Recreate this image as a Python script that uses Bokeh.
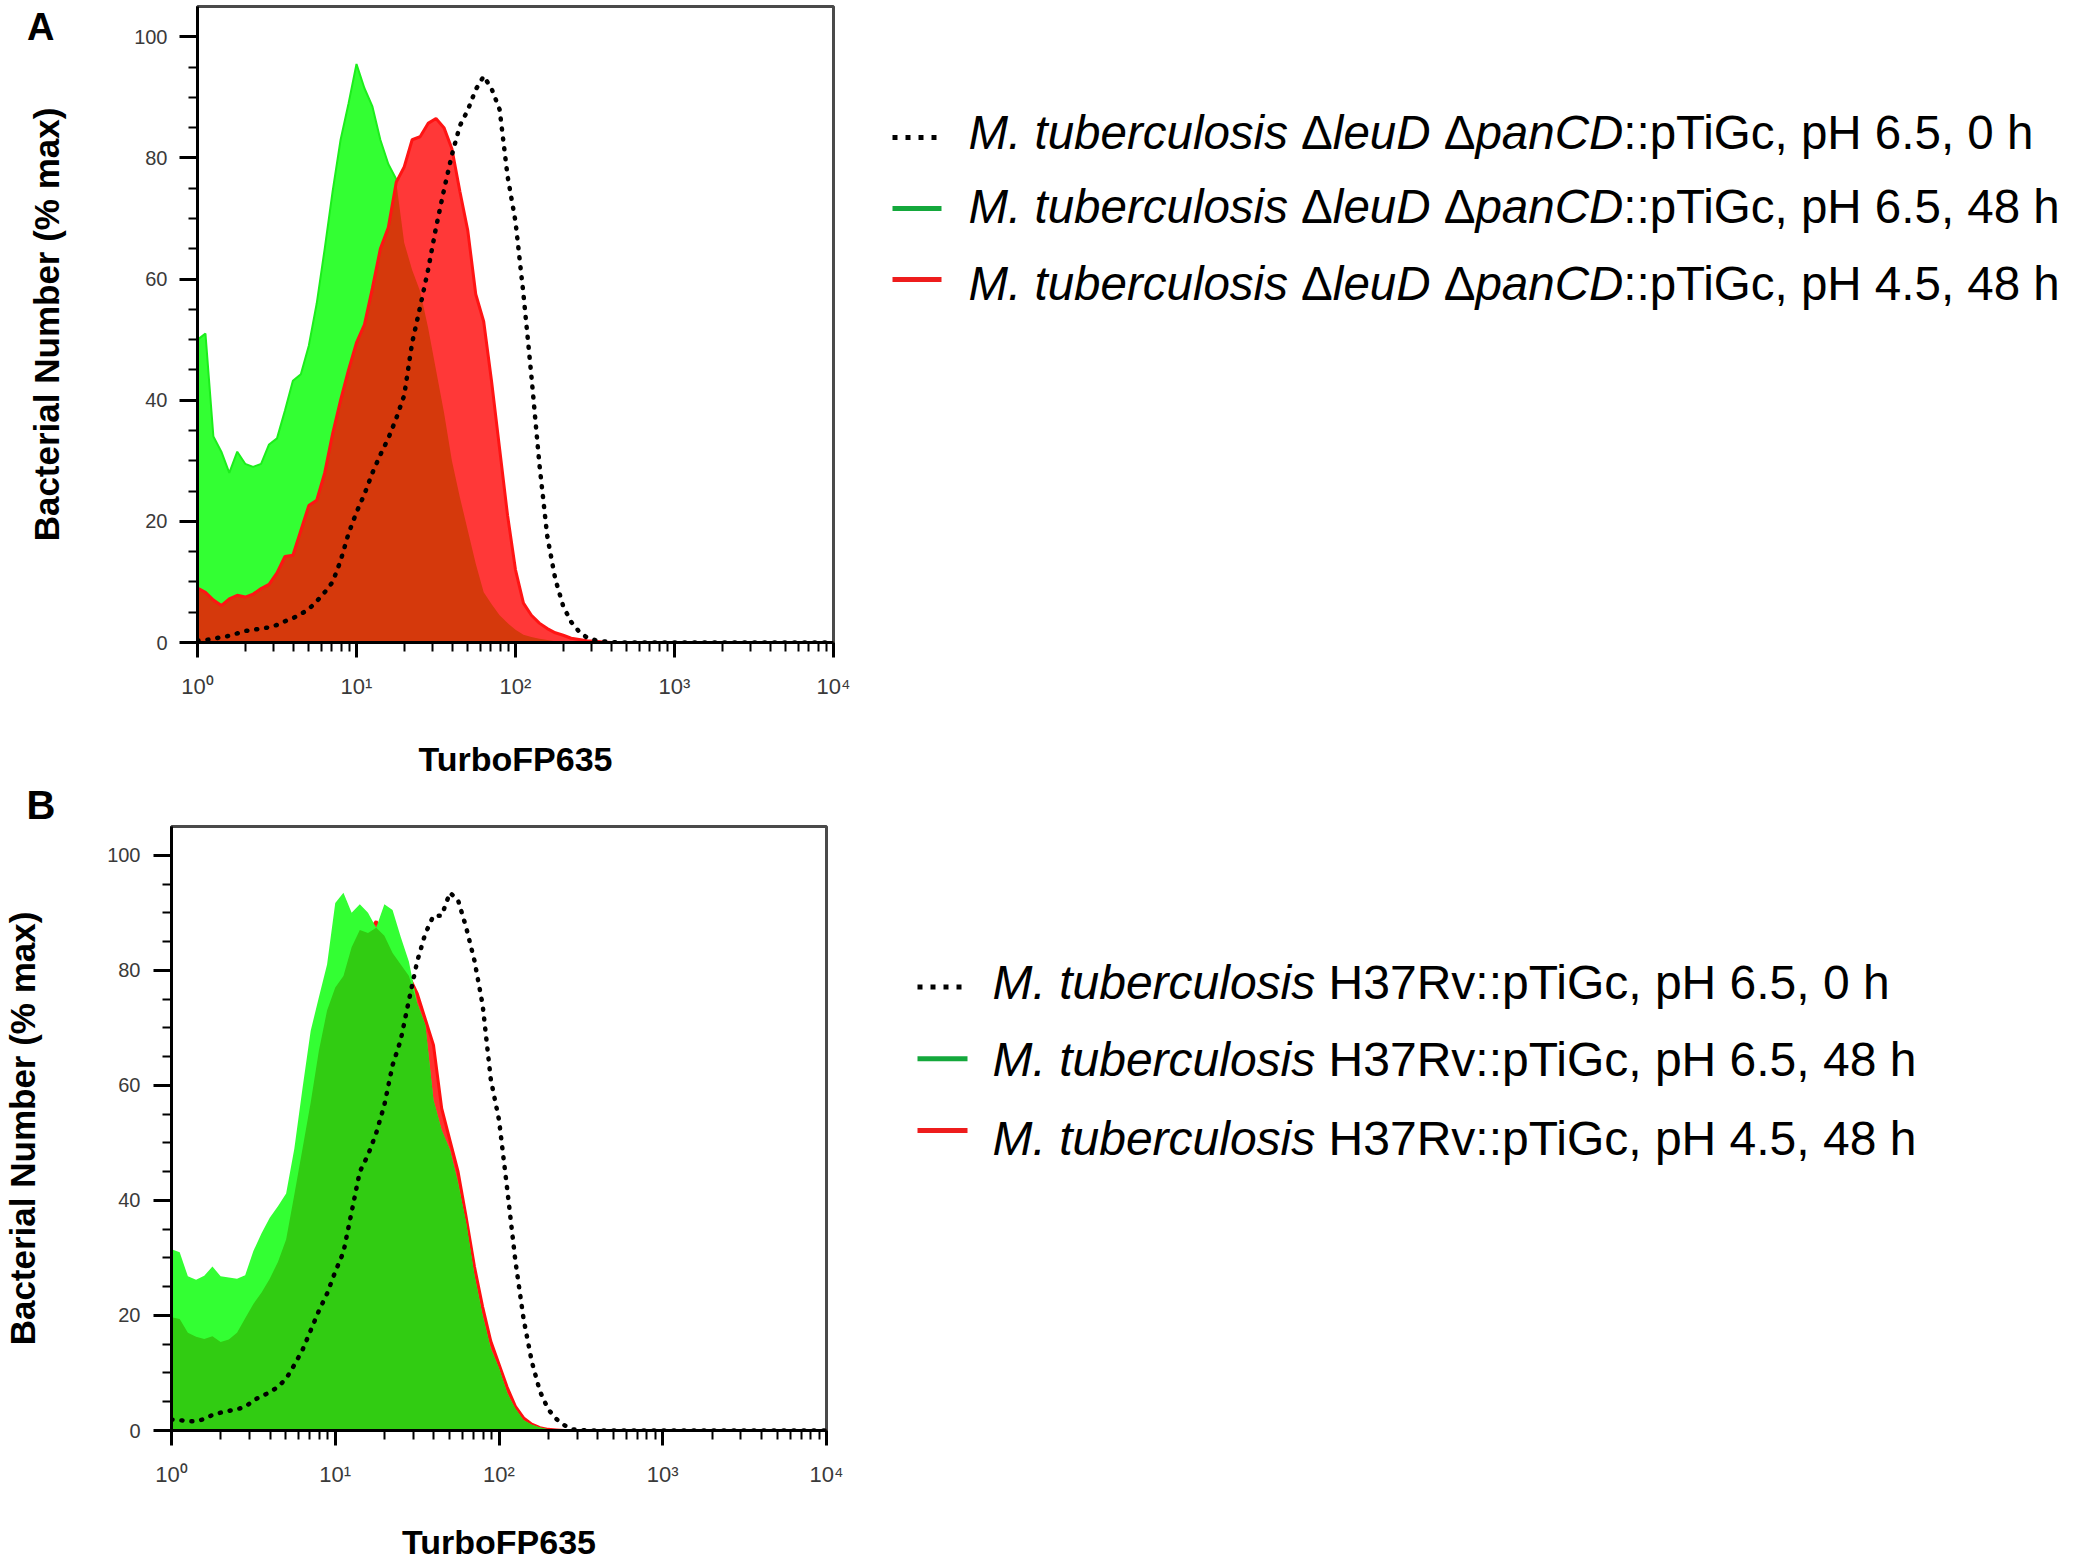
import numpy as np
from bokeh.plotting import figure
from bokeh.models import (Range1d, FixedTicker, ColumnDataSource, LinearAxis,
                          CustomJSTickFormatter)
from bokeh.layouts import row, column
from bokeh.embed import file_html
from bokeh.resources import INLINE
from bokeh.core.properties import value

# ---------------- data ----------------
# bin positions, log10 of TurboFP635 intensity
log_bins = [0.00, 0.05, 0.10, 0.15, 0.20, 0.25, 0.30, 0.35, 0.40, 0.45,
            0.50, 0.55, 0.60, 0.65, 0.70, 0.75, 0.80, 0.85, 0.90, 0.95,
            1.00, 1.05, 1.10, 1.15, 1.20, 1.25, 1.30, 1.35, 1.40, 1.45,
            1.50, 1.55, 1.60, 1.65, 1.70, 1.75, 1.80, 1.85, 1.90, 1.95,
            2.00, 2.05, 2.10, 2.15, 2.20, 2.25, 2.30, 2.35, 2.40, 2.45,
            2.50, 2.55, 2.60, 2.65, 2.70, 3.00, 3.50, 4.00]

# Panel A: M. tuberculosis dleuD dpanCD::pTiGc
a_ph65_0h = [0.3, 0.4, 0.6, 0.9, 1.1, 1.5, 1.9, 2.1, 2.3, 2.5,
             2.9, 3.5, 4.0, 4.7, 5.5, 6.8, 8.3, 10.0, 13.5, 18.0,
             21.5, 24.5, 28.0, 31.0, 33.7, 37.0, 40.8, 49.5, 55.4, 61.5,
             68.5, 74.7, 80.5, 85.3, 87.9, 91.3, 93.5, 91.4, 88.0, 77.0,
             69.5, 57.5, 44.0, 29.5, 17.5, 10.5, 6.0, 3.4, 1.8, 0.8,
             0.4, 0.2, 0.1, 0, 0, 0, 0, 0]
a_ph65_48h = [50.0, 51.0, 34.0, 31.5, 28.0, 31.5, 29.5, 29.0, 29.5, 32.7,
              33.7, 38.3, 43.2, 44.3, 49.0, 56.0, 65.0, 74.5, 83.0, 89.0,
              95.5, 91.5, 88.5, 83.0, 79.0, 76.5, 66.0, 61.5, 58.0, 52.0,
              45.0, 38.0, 30.0, 24.0, 18.5, 13.0, 8.3, 6.3, 4.5, 3.2,
              2.1, 1.3, 0.9, 0.6, 0.4, 0.2, 0.1, 0, 0, 0,
              0, 0, 0, 0, 0, 0, 0, 0]
a_ph45_48h = [9.0, 8.3, 7.0, 6.1, 7.2, 7.8, 7.5, 8.0, 8.9, 9.6,
              11.5, 14.2, 14.4, 18.5, 22.6, 23.5, 28.0, 34.5, 40.0, 45.0,
              49.5, 52.5, 58.5, 65.0, 68.5, 76.0, 78.5, 83.0, 83.5, 85.7,
              86.5, 85.0, 81.5, 74.5, 68.0, 57.5, 53.0, 43.0, 32.0, 21.0,
              12.0, 6.5, 4.5, 3.2, 2.3, 1.6, 1.2, 0.7, 0.5, 0.3,
              0.2, 0.1, 0, 0, 0, 0, 0, 0]

# Panel B: M. tuberculosis H37Rv::pTiGc
b_ph65_0h = [1.9, 1.8, 1.6, 1.6, 2.0, 2.7, 3.1, 3.4, 3.7, 4.1,
             5.2, 6.0, 6.6, 7.6, 9.0, 11.4, 14.0, 17.4, 20.8, 23.8,
             27.6, 31.0, 38.0, 45.0, 47.9, 51.7, 56.6, 63.5, 67.9, 74.8,
             81.5, 86.4, 89.5, 89.5, 93.5, 92.2, 87.4, 81.7, 74.0, 61.0,
             54.0, 42.0, 29.5, 19.4, 12.0, 6.8, 3.7, 2.0, 0.9, 0.2,
             0.05, 0, 0, 0, 0, 0, 0, 0]
b_ph65_48h = [31.5, 31.0, 26.8, 26.2, 26.9, 28.5, 26.8, 26.6, 26.4, 27.0,
              31.2, 34.3, 37.0, 39.0, 41.2, 49.0, 59.5, 69.5, 75.3, 81.0,
              91.7, 93.5, 90.0, 91.5, 90.0, 87.4, 91.5, 90.5, 85.8, 81.5,
              74.3, 70.5, 57.4, 52.2, 48.8, 43.0, 36.0, 27.0, 20.0, 14.2,
              10.8, 6.5, 3.8, 1.8, 1.0, 0.5, 0.2, 0.1, 0, 0,
              0, 0, 0, 0, 0, 0, 0, 0]
b_ph45_48h = [19.7, 19.4, 17.0, 16.3, 15.9, 16.4, 15.4, 15.8, 17.0, 19.5,
              22.0, 24.0, 26.4, 29.3, 33.2, 41.0, 49.0, 57.0, 66.0, 73.0,
              77.0, 79.0, 84.0, 87.0, 86.5, 88.5, 86.0, 83.0, 81.0, 79.0,
              76.0, 71.5, 67.0, 56.0, 50.5, 45.0, 37.0, 28.5, 21.5, 15.5,
              11.5, 7.5, 4.2, 2.2, 1.1, 0.5, 0.2, 0.1, 0, 0,
              0, 0, 0, 0, 0, 0, 0, 0]

x_ticks = [1, 10, 100, 1000, 10000]
x_tick_labels = ["10\u2070", "10\u00b9", "10\u00b2", "10\u00b3", "10\u2074"]
y_ticks = [0, 20, 40, 60, 80, 100]
conditions = ["pH 6.5, 0 h", "pH 6.5, 48 h", "pH 4.5, 48 h"]
y_title = "Bacterial Number (% max)"
x_title = "TurboFP635"

FONT = "Liberation Sans"


def blank(p):
    p.axis.visible = False
    p.grid.visible = False
    p.outline_line_color = None
    p.background_fill_color = "white"
    p.border_fill_color = "white"


def style_hist(p, xstandoff, ylab_standoff, ytitle_standoff):
    p.grid.visible = False
    p.background_fill_color = "white"
    p.border_fill_color = "white"
    p.outline_line_color = "#4a4a4a"
    p.outline_line_width = 3
    minors = [k * 10 ** d for d in range(4) for k in range(2, 10)]
    p.xaxis.ticker = FixedTicker(ticks=x_ticks, minor_ticks=minors)
    p.xaxis.major_label_overrides = {t: l for t, l in zip(x_ticks, x_tick_labels)}
    p.yaxis.ticker = FixedTicker(ticks=y_ticks, minor_ticks=list(range(0, 101, 5)))
    for ax in (p.xaxis[0], p.yaxis[0]):
        ax.axis_line_color = "black"
        ax.axis_line_width = 3
        ax.major_tick_line_color = "black"
        ax.major_tick_line_width = 3
        ax.major_tick_in = 0
        ax.minor_tick_line_color = "black"
        ax.minor_tick_line_width = 2
        ax.minor_tick_in = 0
        ax.major_label_text_font = FONT
        ax.major_label_text_color = "#3a3a3a"
        ax.axis_label_text_font = FONT
        ax.axis_label_text_font_style = "bold"
        ax.axis_label_text_color = "black"
    p.xaxis.major_label_text_font_size = "22px"
    p.yaxis.major_label_text_font_size = "20px"
    p.xaxis.axis_label_text_font_size = "34px"
    p.yaxis.axis_label_text_font_size = "35px"
    p.xaxis.major_tick_out = 15
    p.xaxis.minor_tick_out = 9
    p.xaxis.major_label_standoff = 16
    p.xaxis.axis_label = x_title
    p.xaxis.axis_label_standoff = xstandoff
    p.yaxis.major_tick_out = 18
    p.yaxis.minor_tick_out = 9
    p.yaxis.major_label_standoff = ylab_standoff
    p.yaxis.major_label_orientation = "horizontal"
    p.yaxis.axis_label = y_title
    p.yaxis.axis_label_standoff = ytitle_standoff


xs = 10 ** np.array(log_bins)
zero = np.zeros(len(xs))

# ----- geometry (page pixels) -----
W_PAGE = 2072
HA = 780                 # row A: 0 .. 780
HB = 1563 - HA           # row B: 780 .. 1563
A_top, A_bot = 6, HA - 642
B_top, B_bot = 826 - HA, HB - (1432 - HA)

# ---------------- panel A ----------------
pA = figure(width=868, height=HA, x_axis_type="log",
            x_range=Range1d(1, 10000), y_range=Range1d(0, 105),
            min_border_left=197, min_border_right=35, min_border_top=A_top,
            min_border_bottom=A_bot, toolbar_location=None, output_backend="svg")
style_hist(pA, 38, 12, 65)
letter_axis = LinearAxis(ticker=FixedTicker(ticks=[101.6]),
                         formatter=CustomJSTickFormatter(code='return "A"'),
                         axis_line_color=None, major_tick_line_color=None,
                         minor_tick_line_color=None, major_tick_out=0,
                         major_tick_in=0, major_label_standoff=-30,
                         major_label_text_font=FONT,
                         major_label_text_font_style="bold",
                         major_label_text_font_size="38px",
                         major_label_text_color="black")
pA.add_layout(letter_axis, "left")
gA = np.array(a_ph65_48h)
rA = np.array(a_ph45_48h)
pA.varea(x=xs, y1=zero, y2=gA, fill_color="#33ff33")
pA.line(xs, gA, line_color="#1cee1c", line_width=2)
pA.varea(x=xs, y1=zero, y2=rA, fill_color="#ff3838")
pA.varea(x=xs, y1=zero, y2=np.minimum(gA, rA), fill_color="#d5390c")
pA.line(xs, rA, line_color="#ff1414", line_width=3)
pA.line(xs, a_ph65_0h, line_color="black", line_width=4.5, line_dash="1 9",
        line_cap="round")

# ---------------- panel B ----------------
pB = figure(width=866, height=HB, x_axis_type="log",
            x_range=Range1d(1, 10000), y_range=Range1d(0, 105),
            min_border_left=168, min_border_right=40, min_border_top=B_top,
            min_border_bottom=B_bot, toolbar_location=None, output_backend="svg")
style_hist(pB, 33, 13, 62)
pB.title.text = "B"
pB.title.align = "left"
pB.title.offset = 23 - 168
pB.title.standoff = 0
pB.title.text_font = FONT
pB.title.text_font_style = "bold"
pB.title.text_font_size = "40px"
pB.title.text_color = "black"
gB = np.array(b_ph65_48h)
rB = np.array(b_ph45_48h)
pB.varea(x=xs, y1=zero, y2=rB, fill_color="#ff3030")
pB.line(xs, rB, line_color="#ff1010", line_width=3)
pB.varea(x=xs, y1=zero, y2=gB, fill_color="#33ff33")
pB.varea(x=xs, y1=zero, y2=np.minimum(gB, rB), fill_color="#31cc12")
pB.line(xs, b_ph65_0h, line_color="black", line_width=4.5, line_dash="1 9",
        line_cap="round")

# ---------------- legends ----------------
ADV = {' ': 278, '.': 278, ',': 278, ':': 278, 'M': 833, 't': 278, 'u': 556,
       'b': 556, 'e': 556, 'r': 333, 'c': 500, 'l': 222, 'o': 556, 's': 500,
       'i': 222, 'D': 722, 'p': 556, 'a': 556, 'n': 556, 'C': 722, 'T': 611,
       'G': 778, 'H': 722, 'R': 722, 'v': 500, 'h': 556, '\u0394': 668}


def adv(s, fs):
    return sum(ADV.get(c, 556) for c in s) * fs / 1000.0


def legend_fig(x0, w, h, y0, top, bot, sym_x0, sym_x1, sym_ys, text_x, ys,
               rows, fs):
    p = figure(width=w, height=h, x_range=Range1d(x0, x0 + w),
               y_range=Range1d(y0 + h - bot, y0 + top), min_border_left=0,
               min_border_right=0, min_border_top=top, min_border_bottom=bot,
               toolbar_location=None, output_backend="svg")
    blank(p)
    p.line([sym_x0, sym_x1], [sym_ys[0]] * 2, line_color="black", line_width=5,
           line_dash="5 8")
    p.line([sym_x0, sym_x1], [sym_ys[1]] * 2, line_color="#14a83c", line_width=5)
    p.line([sym_x0, sym_x1], [sym_ys[2]] * 2, line_color="#ee1c1c", line_width=5)
    it = dict(x=[], y=[], text=[])
    nm = dict(x=[], y=[], text=[])
    for segs, yb in zip(rows, ys):
        x = text_x
        for txt, st in segs:
            if st == "italic":
                it["x"].append(x); it["y"].append(yb); it["text"].append(txt)
            elif st == "normal":
                nm["x"].append(x); nm["y"].append(yb); nm["text"].append(txt)
            x += adv(txt, fs)
    for src, st in ((it, "italic"), (nm, "normal")):
        p.text(x="x", y="y", text="text", source=ColumnDataSource(src),
               text_font=value(FONT), text_font_style=st,
               text_font_size=f"{fs}px", text_baseline="alphabetic",
               text_color="black")
    return p


rows_A = [[("M. tuberculosis", "italic"), (" ", None), ("\u0394", "normal"),
           ("leuD", "italic"), (" ", None), ("\u0394", "normal"),
           ("panCD", "italic"), ("::pTiGc, " + c, "normal")] for c in conditions]
rows_B = [[("M. tuberculosis", "italic"), (" ", None),
           ("H37Rv::pTiGc, " + c, "normal")] for c in conditions]

legA = legend_fig(868, W_PAGE - 868, HA, 0, A_top, A_bot, 892, 941,
                  [137, 208, 279], 968, [132, 206, 283], rows_A, 47.5)
legB = legend_fig(866, W_PAGE - 866, HB, HA, B_top, B_bot, 917, 967,
                  [987, 1059, 1131], 992, [983, 1060, 1139], rows_B, 48)

layout = column(row(pA, legA), row(pB, legB))
open("out.html", "w").write(file_html(layout, INLINE))
